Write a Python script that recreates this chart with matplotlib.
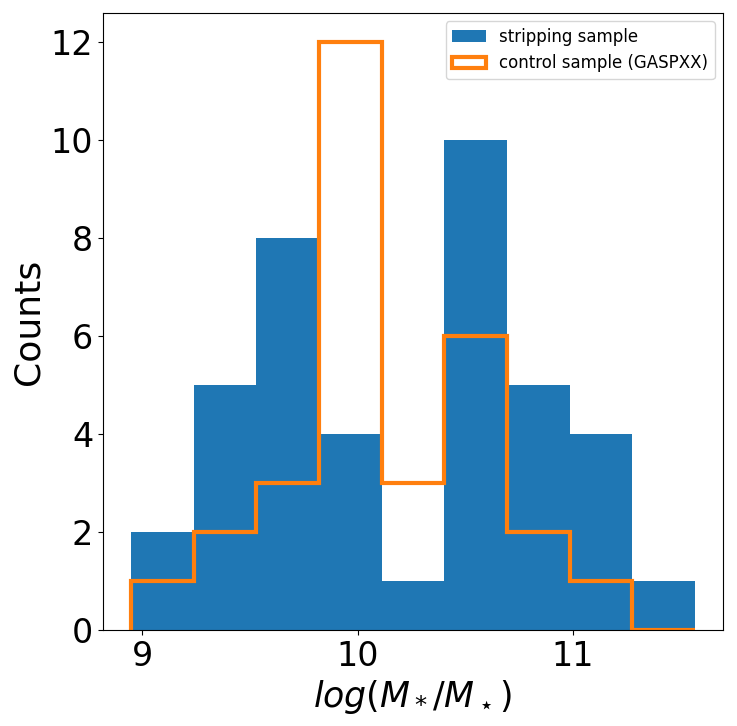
import numpy as np
import matplotlib.pyplot as plt

# histogram data
bin_lo = 8.949
bin_hi = 11.566
n_bins = 9
strip_counts = [2, 5, 8, 4, 1, 10, 5, 4, 1]
control_counts = [1, 2, 3, 12, 3, 6, 2, 1, 0]

edges = np.linspace(bin_lo, bin_hi, n_bins + 1)
centers = 0.5 * (edges[:-1] + edges[1:])

fig = plt.figure(figsize=(7.37, 7.26), dpi=100)
ax = fig.add_axes([103 / 737, 1 - 630 / 726, 620 / 737, 617 / 726])

ax.hist(centers, bins=edges, weights=strip_counts, color='#1f77b4',
        label='stripping sample')
ax.hist(centers, bins=edges, weights=control_counts, histtype='step',
        color='#ff7f0e', linewidth=3, label='control sample (GASPXX)')

ax.set_xlabel(r'$log(M_*/M_\star)$', fontsize=25)
ax.set_ylabel('Counts', fontsize=26)
ax.tick_params(axis='both', labelsize=24)
ax.set_xticks([9, 10, 11])
ax.legend(loc='upper right', fontsize=12)

plt.savefig('out.png', dpi=100)
plt.close()
